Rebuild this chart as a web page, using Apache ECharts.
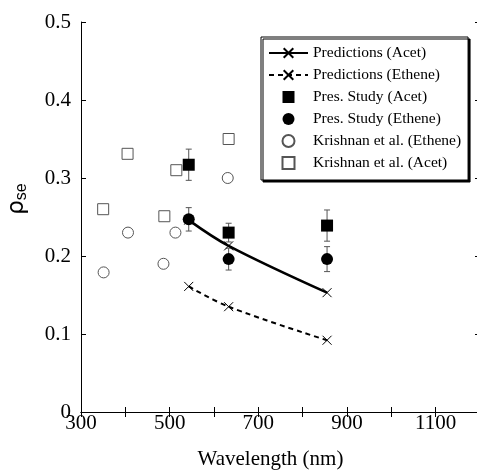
<!DOCTYPE html>
<html>
<head>
<meta charset="utf-8">
<script src="https://cdn.jsdelivr.net/npm/echarts@6/dist/echarts.min.js"></script>
<style>html,body{margin:0;padding:0;background:#fff}#c{width:477px;height:470px}</style>
</head>
<body>
<div id="c"></div>
<script>
// Wavelengths (nm)
const presWavelength = [543, 633, 855];
const krishnanAcetWavelength = [350, 405, 488, 515, 633];
const krishnanEtheneWavelength = [351, 406, 486, 513, 631];

// rho_se values
const predictionsAcet = [0.246, 0.213, 0.153];
const predictionsEthene = [0.161, 0.135, 0.092];
const presStudyAcet = [0.317, 0.230, 0.239];
const presStudyAcetErr = [0.020, 0.012, 0.020];
const presStudyEthene = [0.247, 0.196, 0.196];
const presStudyEtheneErr = [0.015, 0.014, 0.016];
const krishnanAcet = [0.260, 0.331, 0.251, 0.310, 0.350];
const krishnanEthene = [0.179, 0.230, 0.190, 0.230, 0.300];

const seriesNames = ['Predictions (Acet)', 'Predictions (Ethene)', 'Pres. Study (Acet)',
  'Pres. Study (Ethene)', 'Krishnan et al. (Ethene)', 'Krishnan et al. (Acet)'];

const zip = (xs, ys) => xs.map((x, i) => [x, ys[i]]);
const errData = (xs, ys, es) => xs.map((x, i) => [x, ys[i] - es[i], ys[i] + es[i]]);

const SERIF = 'Liberation Serif';
const SQUARE = 'path://M0,0H10V10H0Z';
const CROSS = 'path://M0,0L10,10M10,0L0,10';

function errorBar(params, api) {
  const x = api.value(0);
  const lo = api.coord([x, api.value(1)]);
  const hi = api.coord([x, api.value(2)]);
  const c = 3;
  const st = { stroke: '#555', lineWidth: 1 };
  return {
    type: 'group',
    children: [
      { type: 'line', shape: { x1: lo[0], y1: lo[1], x2: hi[0], y2: hi[1] }, style: st },
      { type: 'line', shape: { x1: lo[0] - c, y1: lo[1], x2: lo[0] + c, y2: lo[1] }, style: st },
      { type: 'line', shape: { x1: hi[0] - c, y1: hi[1], x2: hi[0] + c, y2: hi[1] }, style: st }
    ]
  };
}

const chart = echarts.init(document.getElementById('c'), null, { renderer: 'canvas' });
const axisCommon = {
  axisLine: { show: true, lineStyle: { color: '#000', width: 1 } },
  axisTick: { show: true, inside: true, length: 5, lineStyle: { color: '#000' } },
  splitLine: { show: false }
};
chart.setOption({
  animation: false,
  backgroundColor: '#fff',
  grid: { left: 81, top: 22, right: -3, bottom: 58, containLabel: false, outerBoundsMode: 'none' },
  xAxis: [
    Object.assign({
      type: 'value', min: 300, max: 1200, interval: 100, position: 'bottom',
      axisLabel: { interval: 1, color: '#000', fontFamily: SERIF, fontSize: 21, margin: 1,
        formatter: v => ((v - 300) % 200 === 0 ? String(v) : '') },
      name: 'Wavelength (nm)', nameLocation: 'middle', nameGap: 37,
      nameTextStyle: { color: '#000', fontFamily: SERIF, fontSize: 21, padding: [0, 20, 0, 0] }
    }, axisCommon),
    Object.assign({
      type: 'value', min: 300, max: 1200, interval: 100, position: 'top',
      axisLabel: { show: false }
    }, axisCommon)
  ],
  yAxis: [
    Object.assign({
      type: 'value', min: 0, max: 0.5, interval: 0.1, position: 'left',
      axisLabel: { color: '#000', fontFamily: SERIF, fontSize: 21, margin: 10 }
    }, axisCommon),
    Object.assign({
      type: 'value', min: 0, max: 0.5, interval: 0.1, position: 'right',
      axisLabel: { show: false }
    }, axisCommon)
  ],
  graphic: [{
    type: 'text', x: 17, y: 199, rotation: Math.PI / 2,
    style: {
      text: '{r|ρ}{s|se}', align: 'center', verticalAlign: 'middle',
      rich: {
        r: { fontSize: 23, fontFamily: 'DejaVu Sans', fill: '#000' },
        s: { fontSize: 16, fontFamily: 'Liberation Sans', fill: '#000', padding: [9, 0, 0, 0] }
      }
    }
  }],
  legend: {
    orient: 'vertical', left: 261, top: 37,
    padding: [8, 7, 9, 7],
    itemWidth: 39, itemHeight: 12, itemGap: 6,
    backgroundColor: '#fff', borderColor: '#000', borderWidth: 1,
    shadowColor: '#000', shadowBlur: 0, shadowOffsetX: 2, shadowOffsetY: 2,
    textStyle: { color: '#000', fontFamily: SERIF, fontSize: 15.5 },
    data: seriesNames.map(n => ({ name: n }))
  },
  series: [
    { type: 'custom', renderItem: errorBar, data: errData(presWavelength, presStudyAcet, presStudyAcetErr), z: 1, silent: true },
    { type: 'custom', renderItem: errorBar, data: errData(presWavelength, presStudyEthene, presStudyEtheneErr), z: 1, silent: true },
    {
      name: seriesNames[0], type: 'line', smooth: 0.35, data: zip(presWavelength, predictionsAcet),
      symbol: CROSS, symbolSize: 9, z: 3,
      lineStyle: { color: '#000', width: 2.5 },
      itemStyle: { color: 'rgba(0,0,0,0)', borderColor: '#000', borderWidth: 1 }
    },
    {
      name: seriesNames[1], type: 'line', smooth: 0.35, data: zip(presWavelength, predictionsEthene),
      symbol: CROSS, symbolSize: 9, z: 3,
      lineStyle: { color: '#000', width: 2, type: [5, 4] },
      itemStyle: { color: 'rgba(0,0,0,0)', borderColor: '#000', borderWidth: 1 }
    },
    {
      name: seriesNames[2], type: 'scatter', data: zip(presWavelength, presStudyAcet),
      symbol: SQUARE, symbolSize: 12, z: 4, itemStyle: { color: '#000', opacity: 1 }
    },
    {
      name: seriesNames[3], type: 'scatter', data: zip(presWavelength, presStudyEthene),
      symbol: 'circle', symbolSize: 12, z: 4, itemStyle: { color: '#000', opacity: 1 }
    },
    {
      name: seriesNames[4], type: 'scatter', data: zip(krishnanEtheneWavelength, krishnanEthene),
      symbol: 'circle', symbolSize: 11, z: 2,
      itemStyle: { color: '#fff', borderColor: '#555', borderWidth: 1, opacity: 1 }
    },
    {
      name: seriesNames[5], type: 'scatter', data: zip(krishnanAcetWavelength, krishnanAcet),
      symbol: SQUARE, symbolSize: 11, z: 2,
      itemStyle: { color: '#fff', borderColor: '#555', borderWidth: 1, opacity: 1 }
    }
  ]
});
</script>
</body>
</html>
